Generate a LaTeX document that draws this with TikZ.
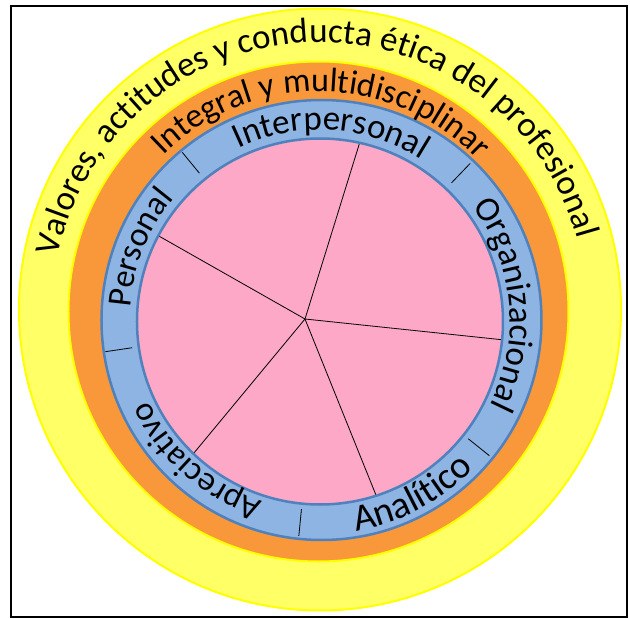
\documentclass[tikz,border=0pt]{standalone}
\usepackage{fontspec}
\setmainfont{Carlito}
\usetikzlibrary{decorations.text}
\definecolor{ylwfill}{HTML}{FFFF66}
\definecolor{ylwline}{HTML}{FFFF00}
\definecolor{orgfill}{HTML}{F8983A}
\definecolor{bluefill}{HTML}{8DB4E2}
\definecolor{blueline}{HTML}{4F81BD}
\definecolor{pinkfill}{HTML}{FCA8C6}
\tikzset{
  ringtext/.style 2 args={decorate, decoration={text along path, text align=center,
      text={|\fontsize{#1}{#1}\selectfont|#2}}},
  spoke/.style={draw=black, line width=0.8pt},
  tick/.style={draw=black, line width=0.8pt},
}
\begin{document}
\begin{tikzpicture}[x=1pt,y=1pt]
\useasboundingbox (-320,-299) rectangle (310,320);
\fill[white] (-320,-299) rectangle (310,320);
\draw[line width=2pt] (-309,-297) rectangle (307.5,314);
% rings
\draw[fill=ylwfill, draw=ylwline, line width=2pt] (0,10.5) circle[radius=301];
\draw[fill=orgfill, draw=ylwline, line width=2pt] (-1.5,8.5) circle[radius=250];
\draw[fill=bluefill, draw=blueline, line width=2.5pt] (1.5,0) circle[radius=220];
\fill[pinkfill] (0,-1.5) circle[radius=183];
% spokes
\coordinate (hub) at (-15,1);
\coordinate (e1) at (43,188);
\coordinate (e2) at (194,-21);
\coordinate (e3) at (62,-190);
\coordinate (e4) at (-136,-145);
\coordinate (e5) at (-170,89);
\begin{scope}
\clip (0,-1.5) circle[radius=183];
\foreach \e in {e1,e2,e3,e4,e5} \path[spoke] (hub) -- (\e);
\end{scope}
\draw[blueline, line width=2.5pt] (0,-1.5) circle[radius=183];
% ticks
\foreach \a in {129.4,46.2,-38.7,-95.6,-171.6}
  \path[tick] (\a:190) -- (\a:217);
% texts
\path[ringtext={35pt}{Valores, actitudes y conducta ética del profesional}]
  (0,10.5) ++(192:267) arc[start angle=192, end angle=-8, radius=267];
\path[ringtext={34pt}{Integral y multidisciplinar}]
  (-1.5,8.5) ++(179.2:220) arc[start angle=179.2, end angle=-0.8, radius=220];
\path[ringtext={35pt}{Interpersonal}]
  (0,0) ++(176.6:190) arc[start angle=176.6, end angle=-3.4, radius=190];
\path[ringtext={35pt}{Organizacional}]
  (0,0) ++(95:190) arc[start angle=95, end angle=-85, radius=190];
\path[ringtext={34pt}{Apreciativo}]
  (0,0) ++(-41.2:190) arc[start angle=-41.2, end angle=-221.2, radius=190];
\path[ringtext={34pt}{Personal}]
  (0,0) ++(248.2:190) arc[start angle=248.2, end angle=68.2, radius=190];
\path[ringtext={38pt}{Analítico}]
  (0,0) ++(-152.2:214) arc[start angle=-152.2, end angle=27.8, radius=214];
\end{tikzpicture}
\end{document}
